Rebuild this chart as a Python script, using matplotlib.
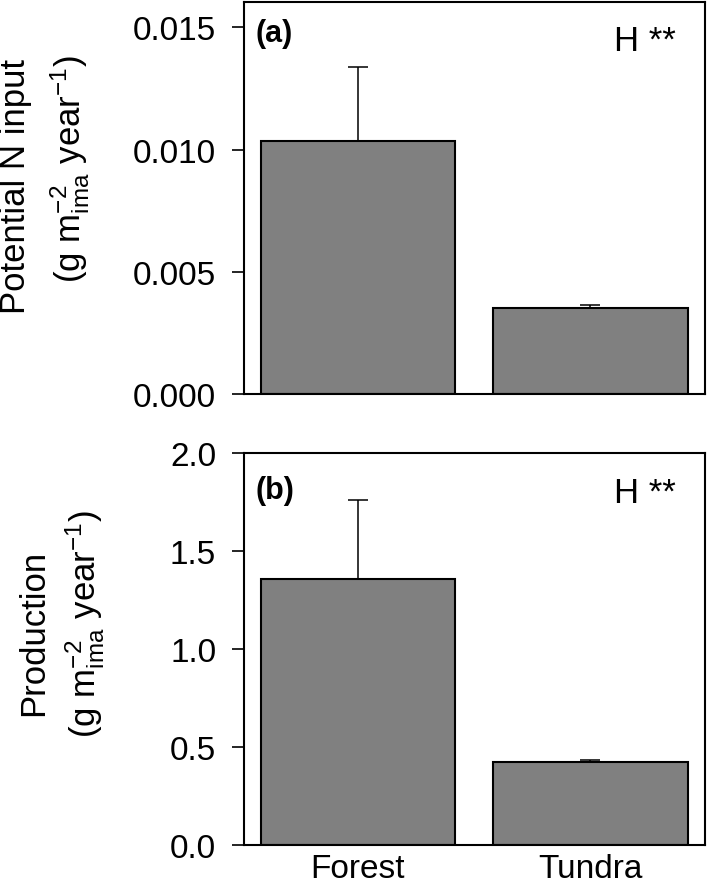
import numpy as np
import matplotlib
matplotlib.use("Agg")
import matplotlib.pyplot as plt

plt.rcParams['font.family'] = ['Liberation Sans', 'DejaVu Sans']
plt.rcParams['mathtext.fontset'] = 'custom'
plt.rcParams['mathtext.rm'] = 'Liberation Sans'
plt.rcParams['mathtext.it'] = 'Liberation Sans'

sites = ["Forest", "Tundra"]
n_input = [0.01034, 0.0035]
n_input_se = [0.00305, 0.00014]
production = [1.358, 0.422]
production_se = [0.40, 0.014]

fig = plt.figure(figsize=(7.09, 8.87), dpi=100)
ax1 = fig.add_axes([0.3441, 0.5547, 0.6502, 0.4419])
ax2 = fig.add_axes([0.3441, 0.04622, 0.6502, 0.4419])

x = np.arange(len(sites))

def panel(ax, vals, se, ylim, yticks, fmt, tag, tag_y, h_y):
    ax.bar(x, vals, width=0.837, color='#808080', edgecolor='black', linewidth=1.5, zorder=2)
    ax.errorbar(x, vals, yerr=[np.zeros(len(vals)), se], fmt='none', ecolor='black',
                elinewidth=1.1, capsize=7, capthick=1.1, zorder=3)
    ax.set_xlim(-0.49, 1.4925)
    ax.set_ylim(ylim)
    ax.set_yticks(yticks)
    ax.set_yticklabels([fmt % t for t in yticks])
    for s in ax.spines.values():
        s.set_linewidth(1.5)
    ax.tick_params(axis='y', direction='out', length=9, width=1.2, labelsize=24, pad=11)
    ax.tick_params(axis='x', length=0, labelsize=24, pad=6)
    ax.text(0.024, tag_y, tag, transform=ax.transAxes, fontsize=22, fontweight='bold',
            ha='left', va='center')
    ax.text(0.937, h_y, "H **", transform=ax.transAxes, fontsize=25,
            ha='right', va='baseline')

panel(ax1, n_input, n_input_se, (0, 0.01604), [0, 0.005, 0.010, 0.015], '%.3f', '(a)', 0.922, 0.8776)
panel(ax2, production, production_se, (0, 2.0), [0, 0.5, 1.0, 1.5, 2.0], '%.1f', '(b)', 0.906, 0.875)
ax1.set_xticks([])
ax2.set_xticks(x)
ax2.set_xticklabels(sites)

W, H = 709.0, 887.0
unit = r"(g m$_{\mathrm{ima}}^{-2}$ year$^{-1}$)"
fig.text(25 / W, 1 - 186.5 / H, "Potential N input", rotation=90, fontsize=25,
         ha='center', va='baseline', rotation_mode='anchor')
fig.text(80 / W, 1 - 169.5 / H, unit, rotation=90, fontsize=25,
         ha='center', va='baseline', rotation_mode='anchor')
fig.text(43 / W, 1 - 632.5 / H, "Production", rotation=90, fontsize=25,
         ha='center', va='baseline', rotation_mode='anchor')
fig.text(95 / W, 1 - 624.5 / H, unit, rotation=90, fontsize=25,
         ha='center', va='baseline', rotation_mode='anchor')

fig.savefig("out.png", dpi=100)
